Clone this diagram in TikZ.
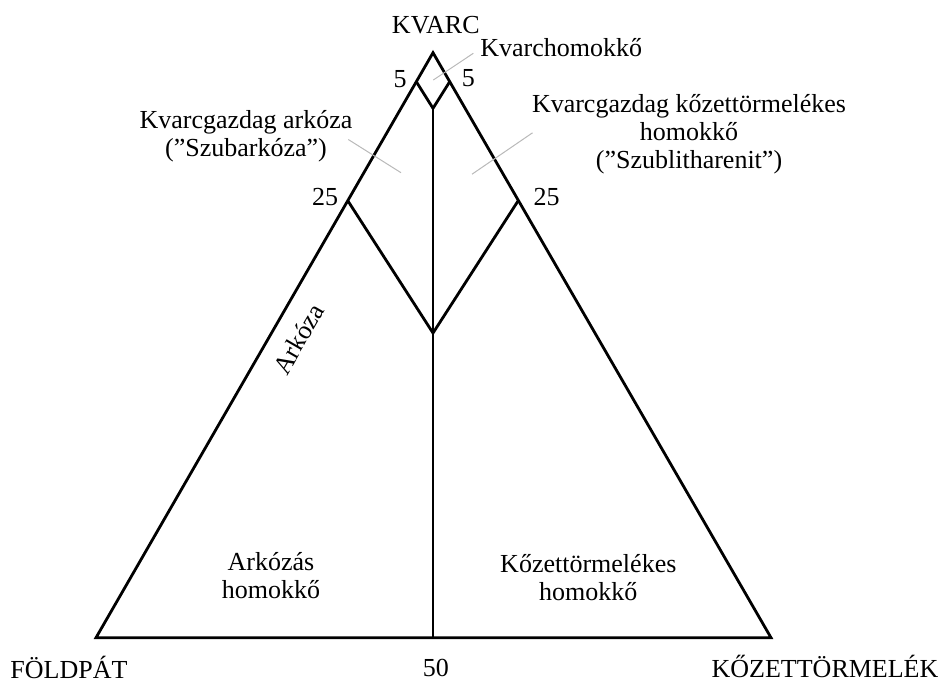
\documentclass[tikz,border=0pt]{standalone}
\usepackage{fontspec}
\setmainfont{Liberation Serif}
\usepackage{tikz}

\begin{document}
\begin{tikzpicture}[
    x=0.5pt, y=-0.5pt,
    edge/.style={line width=1.4pt, line join=miter},
    lead/.style={gray!55, line width=0.5pt},
    lbl/.style={inner sep=0pt, font=\fontsize{13}{14}\selectfont},
    blk/.style={lbl, align=center}
]
\useasboundingbox (0,0) rectangle (945,681);
% corners and ticks
\coordinate (qz) at (433,52.7);
\coordinate (fp) at (96,637.7);
\coordinate (kt) at (771,637.7);
\coordinate (mid) at (433,637.7);
\coordinate (q5l) at (416.5,82);
\coordinate (q5r) at (449.5,82);
\coordinate (d5) at (433,108.3);
\coordinate (q25l) at (348,201);
\coordinate (q25r) at (518,201);
\coordinate (jn) at (433,333);
\draw[edge] (qz) -- (fp) -- (kt) -- cycle;
\draw[edge] (q5l) -- (d5) -- (q5r);
\draw[edge] (d5) -- (mid);
\draw[edge] (q25l) -- (jn) -- (q25r);
% leader lines
\coordinate (la) at (433.3,80);
\coordinate (lb) at (473.3,53.3);
\coordinate (lc) at (348.3,139.5);
\coordinate (ld) at (401,172.7);
\coordinate (le) at (532.5,132.8);
\coordinate (lf) at (472,174.2);
\draw[lead] (la) -- (lb);
\draw[lead] (lc) -- (ld);
\draw[lead] (le) -- (lf);
% texts
\node[lbl, anchor=base] (kvarc) at (435.8,33.3) {KVARC};
\node[lbl, anchor=base west] (khom) at (480,56.7) {Kvarchomokkő};
\node[lbl, anchor=base] (n5l) at (400,87.3) {5};
\node[lbl, anchor=base] (n5r) at (468.3,86.5) {5};
\node[lbl, anchor=base] (n25l) at (325,205) {25};
\node[lbl, anchor=base] (n25r) at (546.7,205) {25};
\node[blk] (szubark) at (246,135.8) {Kvarcgazdag arkóza\\(”Szubarkóza”)};
\node[blk] (szublit) at (689,134.7) {Kvarcgazdag kőzettörmelékes\\homokkő\\(”Szublitharenit”)};
\node[lbl, rotate=60] (ark) at (298.5,339) {Arkóza};
\node[blk] (arkhom) at (271,576) {Arkózás\\homokkő};
\node[blk] (kozhom) at (588.3,578) {Kőzettörmelékes\\homokkő};
\node[lbl, anchor=base] (foldpat) at (69,678.8) {FÖLDPÁT};
\node[lbl, anchor=base] (n50) at (435.8,676) {50};
\node[lbl, anchor=base] (koz) at (825,677) {KŐZETTÖRMELÉK};
\end{tikzpicture}
\end{document}
